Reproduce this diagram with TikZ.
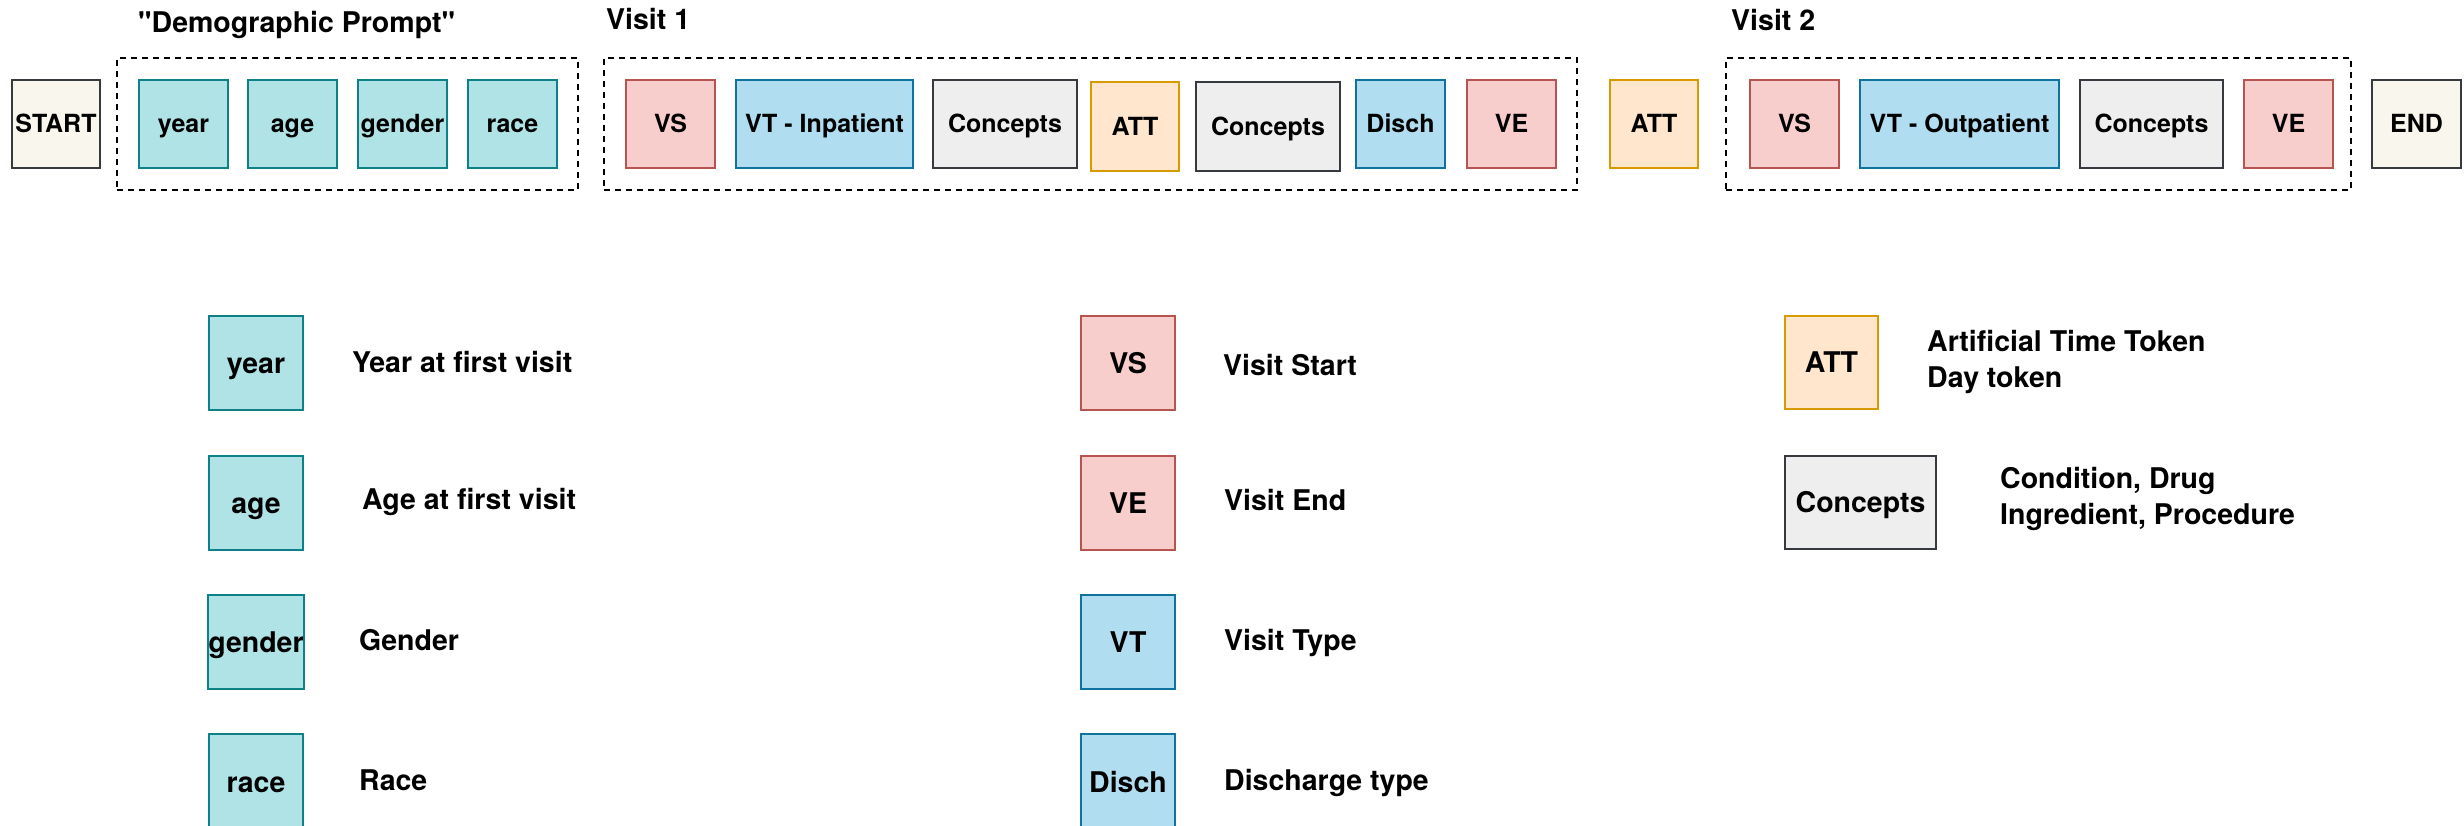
\documentclass[tikz,border=0pt]{standalone}
\usepackage{fontspec}
\setmainfont{TeX Gyre Heros}[Ligatures=TeXOff]

\definecolor{tealF}{HTML}{B0E3E6}\definecolor{tealD}{HTML}{0E8088}
\definecolor{redF}{HTML}{F8CECC}\definecolor{redD}{HTML}{B85450}
\definecolor{blueF}{HTML}{B1DDF0}\definecolor{blueD}{HTML}{10739E}
\definecolor{orgF}{HTML}{FFE6CC}\definecolor{orgD}{HTML}{D79B00}
\definecolor{grayF}{HTML}{EEEEEE}\definecolor{grayD}{HTML}{36393D}
\definecolor{creamF}{HTML}{F9F7ED}

\begin{document}
\begin{tikzpicture}[x=1pt,y=-1pt,
  tokbase/.style={draw, line width=2pt, inner sep=0pt, text height=18pt, text depth=0pt,
    minimum height=88pt, font=\fontsize{25}{30}\selectfont\bfseries},
  keybase/.style={draw, line width=2pt, inner sep=0pt, text height=20.5pt, text depth=0pt,
    minimum height=94pt, font=\fontsize{28.5}{34}\selectfont\bfseries},
  demog/.style={fill=tealF, draw=tealD},
  visitmark/.style={fill=redF, draw=redD},
  visittype/.style={fill=blueF, draw=blueD},
  timetok/.style={fill=orgF, draw=orgD},
  concept/.style={fill=grayF, draw=grayD},
  terminal/.style={fill=creamF, draw=grayD},
  group/.style={draw=black, line width=2pt, dash pattern=on 6pt off 5pt, inner sep=0pt},
  heading/.style={anchor=base west, inner sep=0pt, font=\fontsize{28.5}{34}\selectfont\bfseries},
  desc/.style={anchor=base west, inner sep=0pt, font=\fontsize{28.5}{36}\selectfont\bfseries},
  desctwo/.style={anchor=north west, inner sep=0pt, align=left, font=\fontsize{28.5}{36}\selectfont\bfseries},
]
\path[use as bounding box, fill=white] (0,0) rectangle (2464,826);

% ---- group frames ----
\node[group, minimum width=461pt, minimum height=132pt] (demoframe) at (347.5,124) {};
\node[group, minimum width=973pt, minimum height=132pt] (visitoneframe) at (1090.5,124) {};
\node[group, minimum width=625pt, minimum height=132pt] (visittwoframe) at (2038.5,124) {};

\node[heading] (demotitle) at (138,33) {"Demographic Prompt"};
\node[heading] (visitonetitle) at (606,29.5) {Visit 1};
\node[heading] (visittwotitle) at (1731,30.5) {Visit 2};

% ---- token sequence ----
\node[tokbase, terminal, minimum width=88pt] (start) at (56,124) {START};
\node[tokbase, demog, minimum width=89pt] (year) at (183.5,124) {year};
\node[tokbase, demog, minimum width=89pt] (age) at (292.5,124) {age};
\node[tokbase, demog, minimum width=89pt] (gender) at (402.5,124) {gender};
\node[tokbase, demog, minimum width=89pt] (race) at (512.5,124) {race};

\node[tokbase, visitmark, minimum width=89pt] (vsone) at (670.5,124) {VS};
\node[tokbase, visittype, minimum width=177pt] (vtin) at (824.5,124) {VT - Inpatient};
\node[tokbase, concept, minimum width=144pt] (cone) at (1005,124) {Concepts};
\node[tokbase, timetok, minimum width=88pt, minimum height=89pt] (attone) at (1135,126.5) {ATT};
\node[tokbase, concept, minimum width=144pt, minimum height=89pt] (ctwo) at (1268,126.5) {Concepts};
\node[tokbase, visittype, minimum width=89pt] (disch) at (1400.5,124) {Disch};
\node[tokbase, visitmark, minimum width=89pt] (veone) at (1511.5,124) {VE};

\node[tokbase, timetok, minimum width=88pt] (atttwo) at (1654,124) {ATT};

\node[tokbase, visitmark, minimum width=89pt] (vstwo) at (1794.5,124) {VS};
\node[tokbase, visittype, minimum width=199pt] (vtout) at (1959.5,124) {VT - Outpatient};
\node[tokbase, concept, minimum width=143pt] (cthree) at (2151.5,124) {Concepts};
\node[tokbase, visitmark, minimum width=89pt] (vetwo) at (2288.5,124) {VE};
\node[tokbase, terminal, minimum width=89pt] (end) at (2416.5,124) {END};

% ---- legend: demographic tokens ----
\node[keybase, demog, minimum width=94pt] (kyear) at (256,363) {year};
\node[keybase, demog, minimum width=94pt] (kage) at (256,503) {age};
\node[keybase, demog, minimum width=94pt] (kgender) at (256,642) {gender};
\node[keybase, demog, minimum width=94pt, minimum height=96pt] (krace) at (256,782) {race};
\node[desc] (dyear) at (352,372) {Year at first visit};
\node[desc] (dage) at (362,509) {Age at first visit};
\node[desc] (dgender) at (359,650) {Gender};
\node[desc] (drace) at (359,790) {Race};

% ---- legend: visit tokens ----
\node[keybase, visitmark, minimum width=94pt] (kvs) at (1128,363) {VS};
\node[keybase, visitmark, minimum width=94pt] (kve) at (1128,503) {VE};
\node[keybase, visittype, minimum width=94pt] (kvt) at (1128,642) {VT};
\node[keybase, visittype, minimum width=94pt, minimum height=96pt] (kdisch) at (1128,782) {Disch};
\node[desc] (dvs) at (1223,375) {Visit Start};
\node[desc] (dve) at (1224,510) {Visit End};
\node[desc] (dvt) at (1224,650) {Visit Type};
\node[desc] (ddisch) at (1224,790) {Discharge type};

% ---- legend: time and concept tokens ----
\node[keybase, timetok, minimum width=93pt, minimum height=93pt] (katt) at (1831.5,362.5) {ATT};
\node[keybase, concept, minimum width=151pt, minimum height=93pt] (kconcept) at (1860.5,502.5) {Concepts};
\node[desctwo] (datt) at (1927,330) {\rule{0pt}{21pt}Artificial Time Token\\Day token};
\node[desctwo] (dconcept) at (2000,467) {\rule{0pt}{21pt}Condition, Drug\\Ingredient, Procedure};
\end{tikzpicture}
\end{document}
